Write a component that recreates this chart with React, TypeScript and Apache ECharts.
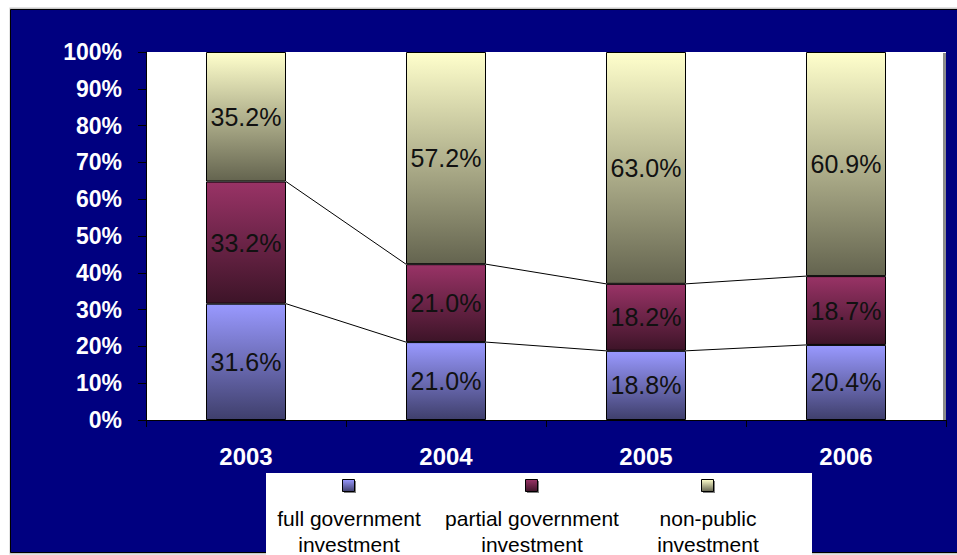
import React, { useEffect, useRef } from "react";
import * as echarts from "echarts";

const years = ["2003", "2004", "2005", "2006"];
const fullGov = [31.6, 21.0, 18.8, 20.4];
const partialGov = [33.2, 21.0, 18.2, 18.7];
const nonPublic = [35.2, 57.2, 63.0, 60.9];
const seriesNames = [
  "full government investment",
  "partial government investment",
  "non-public investment",
];
const gradTop = ["#9999FF", "#993366", "#FFFFCC"];
const gradBottom = ["#3f3f6c", "#3d1428", "#64644f"];

const FONT = '"Liberation Sans", Arial, Helvetica, sans-serif';

export default function App() {
  const ref = useRef<HTMLDivElement>(null);

  useEffect(() => {
    if (!ref.current) return;
    const chart = echarts.init(ref.current, null, { renderer: "svg" });

    const raw = [fullGov, partialGov, nonPublic];
    const totals = years.map((_, i) => raw.reduce((s, arr) => s + arr[i], 0));
    const shares = raw.map((arr) => arr.map((v, i) => (v / totals[i]) * 100));
    const cum0 = shares[0];
    const cum1 = shares[0].map((v, i) => v + shares[1][i]);

    const lineData: number[][] = [];
    [cum0, cum1].forEach((cum) => {
      for (let i = 0; i < years.length - 1; i++) {
        lineData.push([i, cum[i], cum[i + 1]]);
      }
    });

    const grad = (k: number) =>
      new echarts.graphic.LinearGradient(0, 0, 0, 1, [
        { offset: 0, color: gradTop[k] },
        { offset: 1, color: gradBottom[k] },
      ]);

    const barSeries = seriesNames.map((name, k) => ({
      name,
      type: "bar",
      stack: "total",
      barCategoryGap: "60%",
      data: shares[k],
      itemStyle: { color: grad(k), borderColor: "#000", borderWidth: 1 },
      label: {
        show: true,
        position: "inside",
        fontFamily: FONT,
        fontSize: 25,
        color: "#111",
        formatter: (p: any) => raw[k][p.dataIndex].toFixed(1) + "%",
      },
      z: 2,
    }));

    const legendCenters = [349, 532, 708];
    const legendElems: any[] = [
      {
        type: "rect",
        shape: { x: 266, y: 473, width: 546, height: 100 },
        style: { fill: "#ffffff" },
        z: 50,
      },
    ];
    seriesNames.forEach((name, k) => {
      const cx = legendCenters[k];
      legendElems.push({
        type: "rect",
        shape: { x: cx - 5, y: 481, width: 12, height: 12 },
        style: { fill: "#808080" },
        z: 51,
      });
      legendElems.push({
        type: "rect",
        shape: { x: cx - 6.5, y: 479.5, width: 12, height: 12 },
        style: { fill: grad(k), stroke: "#000", lineWidth: 1 },
        z: 52,
      });
      const idx = name.lastIndexOf(" ");
      const txt = name.slice(0, idx) + "\n" + name.slice(idx + 1);
      legendElems.push({
        type: "text",
        x: cx,
        y: 505,
        style: {
          text: txt,
          fontFamily: FONT,
          fontSize: 21,
          lineHeight: 26,
          fill: "#000",
          align: "center",
          verticalAlign: "top",
        },
        z: 52,
      });
    });

    chart.setOption({
      animation: false,
      backgroundColor: "#ffffff",
      graphic: {
        elements: [
          {
            type: "rect",
            shape: { x: 9.5, y: 7.5, width: 960, height: 547 },
            style: { fill: "#c8c8c8" },
            z: -20,
          },
          {
            type: "rect",
            shape: { x: 10.5, y: 9.5, width: 960, height: 543 },
            style: { fill: "#000080", stroke: "#000", lineWidth: 1 },
            z: -10,
          },
          {
            type: "rect",
            shape: { x: 943, y: 53, width: 3, height: 367 },
            style: { fill: "#8c8c8c" },
            z: 1,
          },
          ...legendElems,
        ],
      },
      grid: {
        left: 146,
        top: 52,
        width: 800,
        height: 368,
        show: true,
        backgroundColor: "#ffffff",
        borderWidth: 0,
        containLabel: false,
      },
      xAxis: {
        type: "category",
        data: years,
        boundaryGap: true,
        axisLine: { show: true, lineStyle: { color: "#000", width: 1 } },
        axisTick: { show: true, length: 7, lineStyle: { color: "#000" } },
        axisLabel: {
          color: "#ffffff",
          fontFamily: FONT,
          fontWeight: "bold",
          fontSize: 24,
          margin: 24,
        },
        splitLine: { show: false },
      },
      yAxis: {
        type: "value",
        min: 0,
        max: 100,
        interval: 10,
        axisLine: { show: true, lineStyle: { color: "#000", width: 1 } },
        axisTick: { show: true, length: 8, lineStyle: { color: "#000" } },
        axisLabel: {
          color: "#ffffff",
          fontFamily: FONT,
          fontWeight: "bold",
          fontSize: 23,
          margin: 24,
          formatter: "{value}%",
        },
        splitLine: { show: false },
      },
      series: [
        ...barSeries,
        {
          type: "custom",
          data: lineData,
          encode: { x: 0, y: [1, 2] },
          z: 5,
          silent: true,
          renderItem: (params: any, api: any) => {
            const i = api.value(0);
            const p1 = api.coord([i, api.value(1)]);
            const p2 = api.coord([i + 1, api.value(2)]);
            const half = (api.size([1, 0])[0] * 0.4) / 2;
            return {
              type: "line",
              shape: { x1: p1[0] + half, y1: p1[1], x2: p2[0] - half, y2: p2[1] },
              style: { stroke: "#000", lineWidth: 1 },
            };
          },
        },
      ],
    });

    return () => chart.dispose();
  }, []);

  return (
    <div
      ref={ref}
      style={{
        position: "fixed",
        left: 0,
        top: 0,
        width: 957,
        height: 555,
        background: "#ffffff",
      }}
    />
  );
}
